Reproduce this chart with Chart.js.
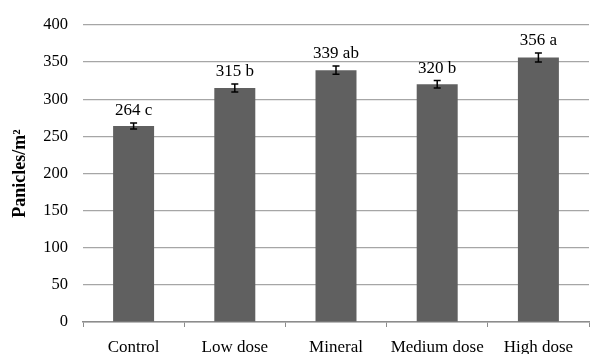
<!DOCTYPE html>
<html>
<head>
<meta charset="utf-8">
<script src="https://cdn.jsdelivr.net/npm/chart.js@4"></script>
<style>
  body { margin: 0; background: #fff; }
  #wrap { width: 590px; height: 354px; }
</style>
</head>
<body>
<div id="wrap"><canvas id="panicleChart"></canvas></div>
<script>
// values
var treatments = ["Control", "Low dose", "Mineral", "Medium dose", "High dose"];
var panicles = [264, 315, 339, 320, 356];
var errors = [4, 5.5, 5.5, 5, 6];
var letters = ["264 c", "315 b", "339 ab", "320 b", "356 a"];
var yTicks = [0, 50, 100, 150, 200, 250, 300, 350, 400];

var serif = "'Liberation Serif', 'Times New Roman', serif";

// error bars and the mean/letter labels above them
var errorBarPlugin = {
  id: 'errorBars',
  afterDatasetsDraw: function(chart) {
    var ctx = chart.ctx;
    var yScale = chart.scales.y;
    var meta = chart.getDatasetMeta(0);
    ctx.save();
    meta.data.forEach(function(bar, i) {
      var top = yScale.getPixelForValue(panicles[i] + errors[i]);
      var bottom = yScale.getPixelForValue(panicles[i] - errors[i]);
      ctx.strokeStyle = '#000';
      ctx.lineWidth = 1.5;
      ctx.beginPath();
      ctx.moveTo(bar.x, top);
      ctx.lineTo(bar.x, bottom);
      ctx.moveTo(bar.x - 3.5, top);
      ctx.lineTo(bar.x + 3.5, top);
      ctx.moveTo(bar.x - 3.5, bottom);
      ctx.lineTo(bar.x + 3.5, bottom);
      ctx.stroke();

      ctx.fillStyle = '#000';
      ctx.font = "17px " + serif;
      ctx.textAlign = 'center';
      ctx.textBaseline = 'bottom';
      ctx.fillText(letters[i], bar.x, top - 4);
    });
    ctx.restore();
  }
};

var ctx = document.getElementById("panicleChart").getContext('2d');
var chart = new Chart(ctx, {
  type: 'bar',
  data: {
    labels: treatments,
    datasets: [{
      data: panicles,
      backgroundColor: '#606060',
      borderWidth: 0,
      categoryPercentage: 1,
      barPercentage: 0.405
    }]
  },
  options: {
    responsive: true,
    maintainAspectRatio: false,
    animation: false,
    layout: { padding: { top: 9, right: 1, left: 4, bottom: 0 } },
    plugins: { legend: { display: false }, tooltip: { enabled: false } },
    scales: {
      x: {
        grid: { offset: true, drawOnChartArea: false, tickLength: 5, color: '#8c8c8c' },
        border: { color: '#8c8c8c', width: 1.5 },
        ticks: { color: '#000', font: { family: serif, size: 17 }, padding: 10, maxRotation: 0 },
        afterFit: function(scale) { scale.height = 32; }
      },
      y: {
        min: 0,
        max: 400,
        afterBuildTicks: function(scale) {
          scale.ticks = yTicks.map(function(v) { return { value: v }; });
        },
        grid: { color: '#a6a6a6', lineWidth: 1.2, drawTicks: false },
        border: { display: false },
        ticks: { color: '#000', font: { family: serif, size: 16.5 }, padding: 15 },
        title: {
          display: true,
          text: 'Panicles/m²',
          color: '#000',
          font: { family: serif, size: 18, weight: 'bold' },
          padding: { top: 6, bottom: 0 }
        },
        afterFit: function(scale) { scale.width = 79; }
      }
    }
  },
  plugins: [errorBarPlugin]
});
</script>
</body>
</html>
